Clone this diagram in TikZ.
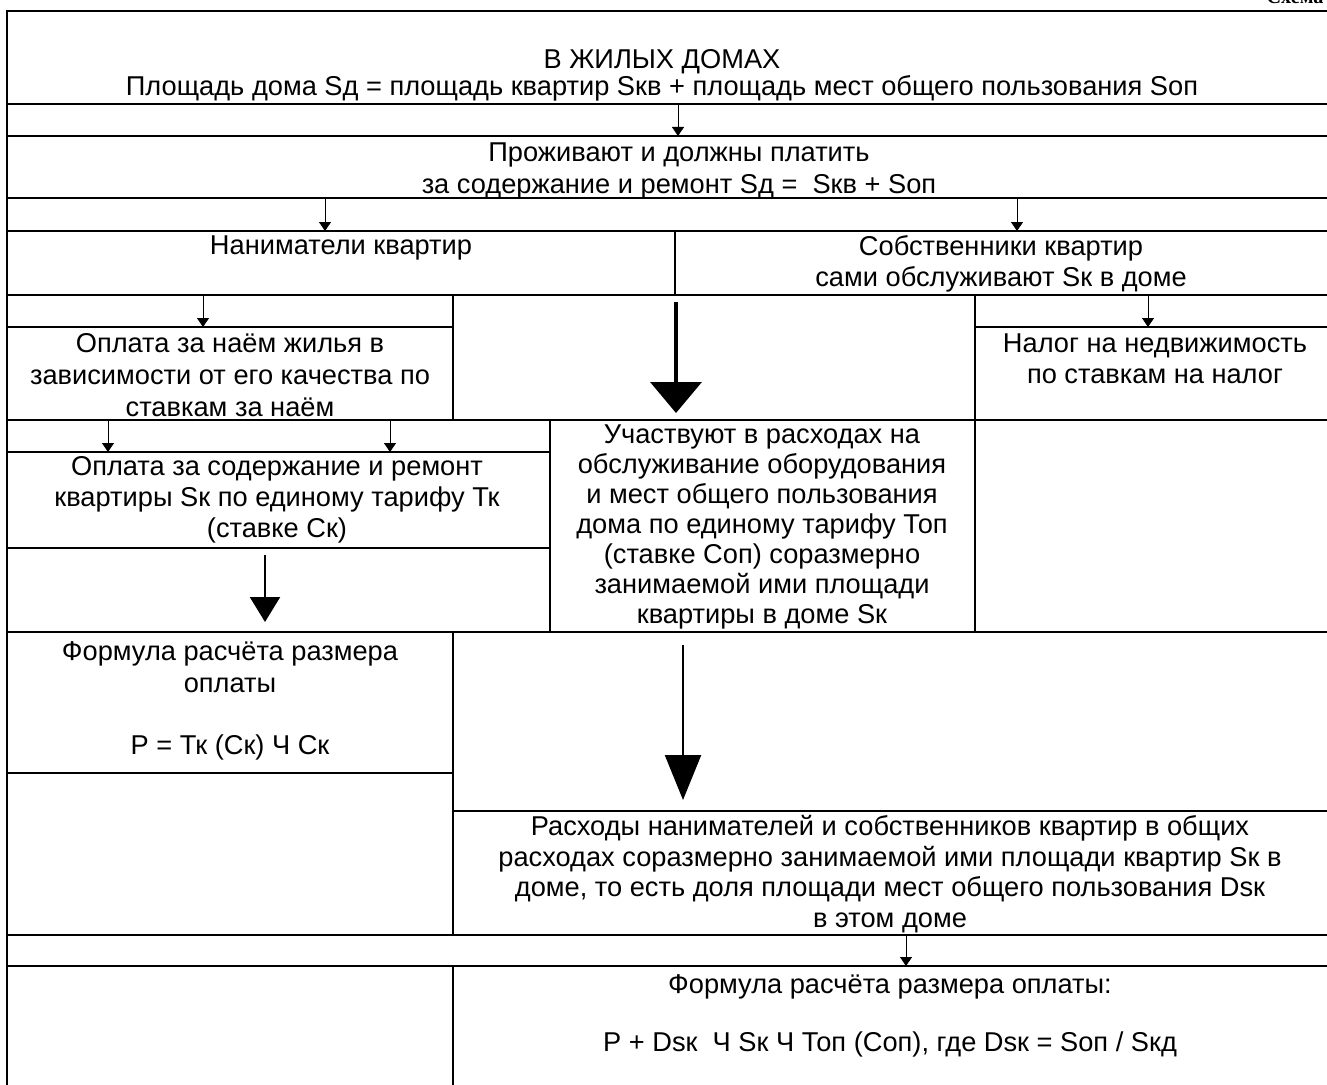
\documentclass[tikz,border=0pt]{standalone}
\usepackage{fontspec}
\setmainfont{Liberation Sans}
\newfontfamily\headfont{Liberation Serif}
\usepackage{tikz}
\usetikzlibrary{arrows.meta}
\tikzstyle{grid} = [line width=1pt]
\tikzstyle{txt} = [align=center, inner sep=0pt, font=\fontsize{15.5}{17.7}\selectfont]
\tikzstyle{arrow} = [line width=0.55pt, -{Triangle[width=0.24cm,length=0.18cm]}]
\tikzstyle{bigarrow} = [line width=2.2pt, -{Triangle[width=1.02cm,length=0.62cm]}]
\tikzstyle{midarrow} = [line width=1.3pt, -{Triangle[width=0.6cm,length=0.5cm]}]

\begin{document}
\begin{tikzpicture}[x=0.02cm, y=-0.02cm]
\useasboundingbox (0,0) rectangle (1327,1084);

% Cells of the table
\draw[grid] (7,11) rectangle (1329,104);
\draw[grid] (7,104) rectangle (1329,136);
\draw[grid] (7,136) rectangle (1329,198);
\draw[grid] (7,198) rectangle (1329,231);
\draw[grid] (7,231) rectangle (675,295);
\draw[grid] (675,231) rectangle (1329,295);
\draw[grid] (7,295) rectangle (453,327);
\draw[grid] (7,327) rectangle (453,420);
\draw[grid] (453,295) rectangle (975,420);
\draw[grid] (975,295) rectangle (1329,327);
\draw[grid] (975,327) rectangle (1329,420);
\draw[grid] (7,420) rectangle (550,452);
\draw[grid] (7,452) rectangle (550,548);
\draw[grid] (7,548) rectangle (550,632);
\draw[grid] (550,420) rectangle (975,632);
\draw[grid] (975,420) rectangle (1329,632);
\draw[grid] (7,632) rectangle (453,773);
\draw[grid] (7,773) rectangle (453,935);
\draw[grid] (453,632) rectangle (1329,811);
\draw[grid] (453,811) rectangle (1329,935);
\draw[grid] (7,935) rectangle (1329,966);
\draw[grid] (7,966) rectangle (453,1092);
\draw[grid] (453,966) rectangle (1329,1092);

% Header
\node[anchor=base, font=\headfont\bfseries\fontsize{11.5}{14}\selectfont] (scheme) at (1295,4) {Схема};

% Texts
\node[txt, font=\fontsize{15.5}{15.3}\selectfont] (title) at (662,75) {В ЖИЛЫХ ДОМАХ\\Площадь дома Sд = площадь квартир Sкв + площадь мест общего пользования Sоп};
\node[txt] (live) at (679,171) {Проживают и должны платить\\за содержание и ремонт Sд =~ Sкв + Sоп};
\node[txt] (tenants) at (341,248) {Наниматели квартир};
\node[txt] (owners) at (1001,264) {Собственники квартир\\сами обслуживают Sк в доме};
\node[txt, font=\fontsize{15.5}{18}\selectfont] (rent) at (230,375) {Оплата за наём жилья в\\зависимости от его качества по\\ставкам за наём};
\node[txt] (tax) at (1155,359) {Налог на недвижимость\\по ставкам на налог};
\node[txt] (upkeep) at (277,500) {Оплата за содержание и ремонт\\квартиры Sк по единому тарифу Тк\\(ставке Ск)};
\node[txt, font=\fontsize{15.5}{17.1}\selectfont] (common) at (762,527) {Участвуют в расходах на\\обслуживание оборудования\\и мест общего пользования\\дома по единому тарифу Топ\\(ставке Соп) соразмерно\\занимаемой ими площади\\квартиры в доме Sк};
\node[txt] (formula1) at (230,701) {Формула расчёта размера\\оплаты\\\mbox{}\\P = Тк (Ск) Ч Ск};
\node[txt, font=\fontsize{15.5}{17.4}\selectfont] (costs) at (890,874) {Расходы нанимателей и собственников квартир в общих\\расходах соразмерно занимаемой ими площади квартир Sк в\\доме, то есть доля площади мест общего пользования Dsк\\в этом доме};
\node[txt, font=\fontsize{15.5}{16.4}\selectfont] (formula2) at (890,1016) {Формула расчёта размера оплаты:\\\mbox{}\\P + Dsк~ Ч Sк Ч Топ (Соп), где Dsк = Sоп / Sкд};

% Arrow ends
\coordinate (a1) at (678,104);  \coordinate (b1) at (678,136);
\coordinate (a2) at (325,198);  \coordinate (b2) at (325,231);
\coordinate (a3) at (1017,198); \coordinate (b3) at (1017,231);
\coordinate (a4) at (203,295);  \coordinate (b4) at (203,327);
\coordinate (a5) at (1148,295); \coordinate (b5) at (1148,327);
\coordinate (a6) at (108,420);  \coordinate (b6) at (108,452);
\coordinate (a7) at (390,420);  \coordinate (b7) at (390,452);
\coordinate (a8) at (906,935);  \coordinate (b8) at (906,966);
\coordinate (c1) at (676,302);  \coordinate (d1) at (676,413);
\coordinate (c2) at (265,555);  \coordinate (d2) at (265,622);
\coordinate (c3) at (683,645);  \coordinate (d3) at (683,800);

% Arrows
\draw[arrow] (a1) -- (b1);
\draw[arrow] (a2) -- (b2);
\draw[arrow] (a3) -- (b3);
\draw[arrow] (a4) -- (b4);
\draw[arrow] (a5) -- (b5);
\draw[arrow] (a6) -- (b6);
\draw[arrow] (a7) -- (b7);
\draw[arrow] (a8) -- (b8);
\draw[bigarrow] (c1) -- (d1);
\draw[midarrow] (c2) -- (d2);
\draw[midarrow, -{Triangle[width=0.72cm,length=0.9cm]}] (c3) -- (d3);
\end{tikzpicture}
\end{document}
